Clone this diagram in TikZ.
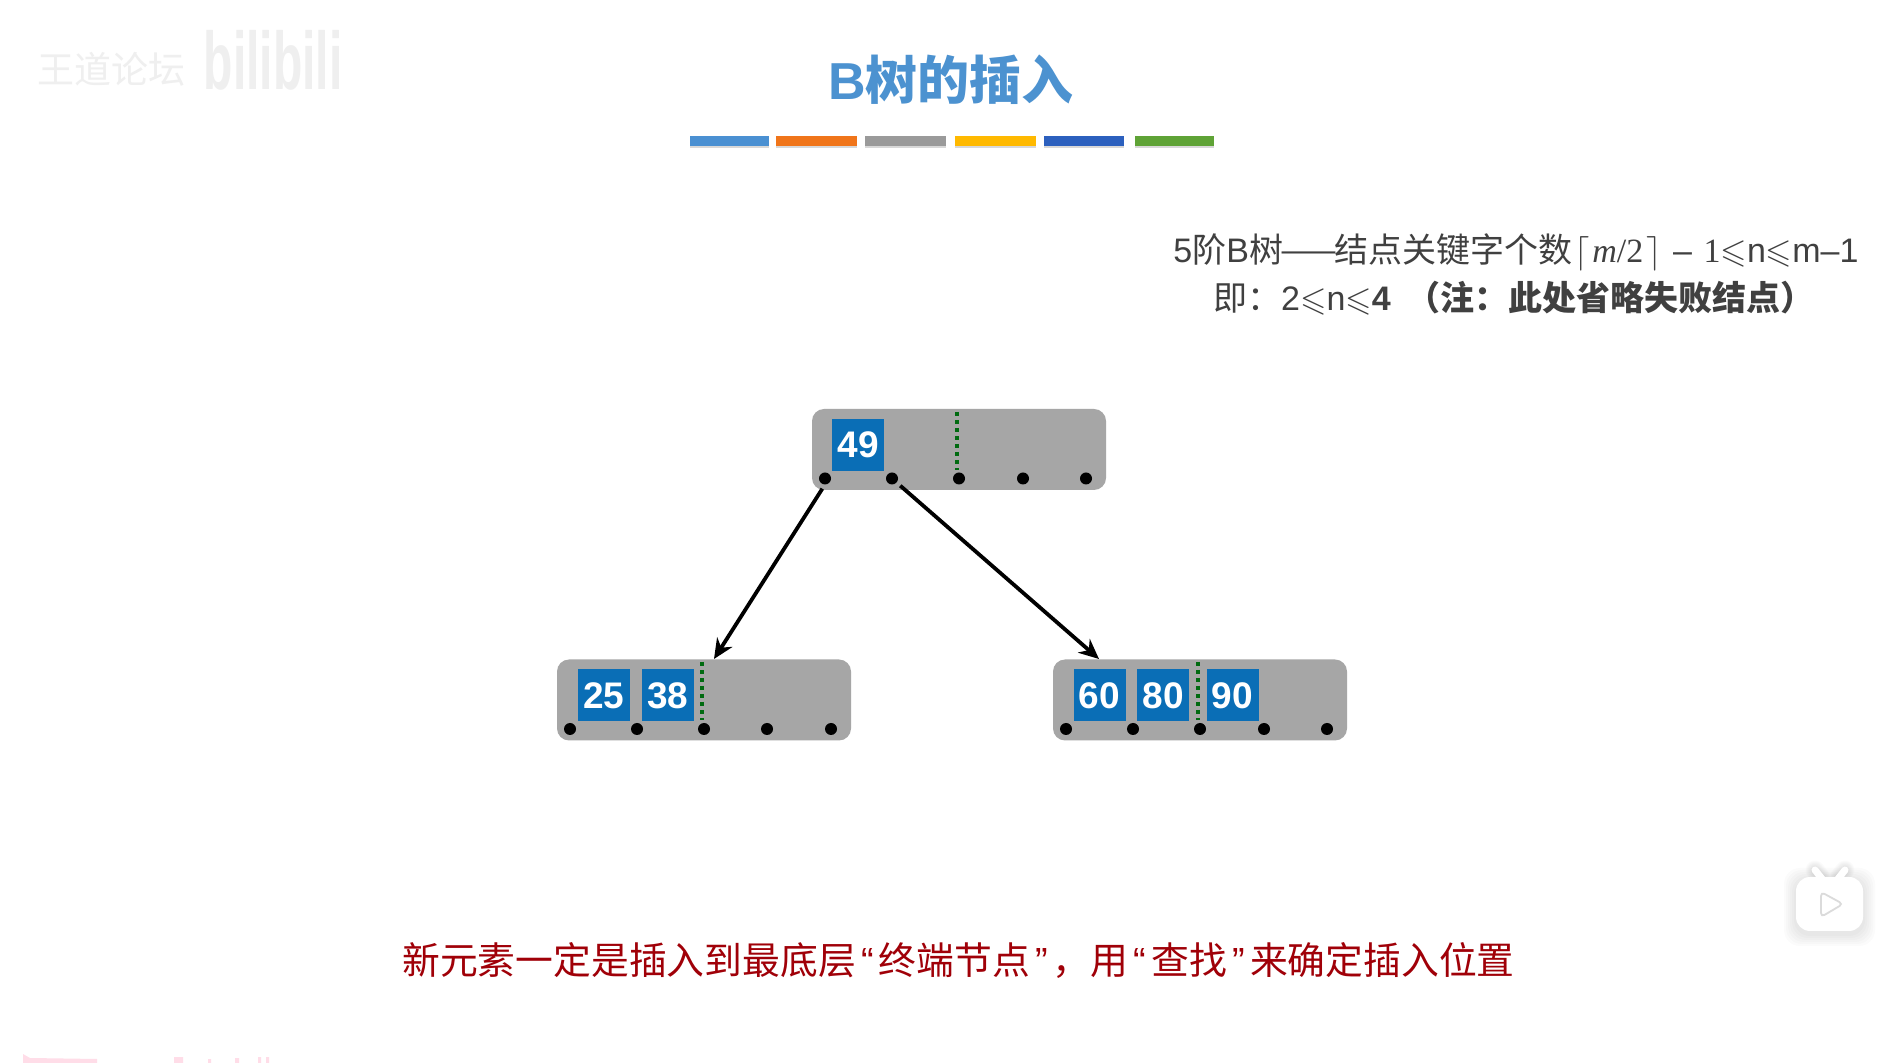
\documentclass[tikz,border=0pt]{standalone}
\usepackage{amssymb}
\usepackage{fontspec}
\setmainfont{Liberation Sans}
\newfontfamily\cjk{Noto Sans CJK SC}
\newfontfamily\timesfam{Liberation Serif}
\usetikzlibrary{arrows.meta,shadows}
\definecolor{titleblue}{HTML}{4C92D0}
\definecolor{barblue}{HTML}{4A90D2}
\definecolor{barorange}{HTML}{F0751A}
\definecolor{bargray}{HTML}{9A9A9A}
\definecolor{baryellow}{HTML}{FFB900}
\definecolor{bardark}{HTML}{2C60BE}
\definecolor{bargreen}{HTML}{5FA336}
\definecolor{panelgray}{HTML}{A6A6A6}
\definecolor{keyblue}{HTML}{0A6EB6}
\definecolor{seamgreen}{HTML}{006A10}
\definecolor{noteink}{HTML}{404040}
\definecolor{warnred}{HTML}{A00008}
\definecolor{markgray}{HTML}{EFEFEF}
\definecolor{smudgepink}{HTML}{FFDDE8}
\newcommand{\opquote}{\makebox[11.5pt][c]{“}}
\newcommand{\clquote}{\makebox[11.5pt][c]{”}}

\begin{document}
\begin{tikzpicture}[x=0.5pt,y=-0.5pt,>={Stealth[length=10pt,width=9pt]},
  bar/.style={minimum height=5pt,inner sep=0pt,outer sep=0pt,
              drop shadow={shadow xshift=0pt,shadow yshift=-1pt,opacity=.3}},
  panel/.style={fill=panelgray,rounded corners=6pt,minimum width=147pt,minimum height=40.5pt,
                inner sep=0pt,outer sep=0pt},
  keybox/.style={fill=keyblue,text=white,minimum size=26pt,inner sep=0pt,outer sep=0pt,
                 font=\fontsize{18.5}{18.5}\selectfont\bfseries},
  ptr/.style={circle,fill=black,minimum size=6pt,inner sep=0pt,outer sep=0pt},
  seam/.style={seamgreen,line width=2pt,dash pattern=on 2pt off 2pt},
  link/.style={->,black,line width=1.9pt,shorten <=2.5pt},
  note/.style={text=noteink,inner sep=0pt,font=\fontsize{17}{17}\selectfont},
  halo/.style={black,opacity=.014,rounded corners=8pt}]
\path[fill=white,use as bounding box] (0,0) rectangle (1903,1063);

% ===== watermark =====
\node[text=markgray,inner sep=0pt,font=\fontsize{18.5}{18.5}\selectfont\cjk] (wm) at (112,69) {王道论坛};
\node[text=markgray,inner sep=0pt,font=\fontsize{24}{24}\selectfont\bfseries,yscale=1.7,transform shape] (bili) at (273,60) {bilibili};
\fill[smudgepink] (23,1054) -- (30,1058) -- (97,1059) -- (97,1063) -- (23,1063) -- cycle;
\fill[smudgepink] (174,1057) rectangle (183,1063) (208,1059) rectangle (211,1063) (235,1058) rectangle (239,1063) (258,1057) rectangle (261,1063) (266,1057) rectangle (269,1063);

% ===== title =====
\node[text=titleblue,inner sep=0pt,font=\fontsize{26}{26}\selectfont\bfseries] (title) at (951,80) {B{\cjk 树的插入}};
\foreach \nm/\xa/\xb/\cc in {a/690/769/barblue,b/776/857/barorange,c/865/946/bargray,
                             d/955/1036/baryellow,e/1044/1124/bardark,f/1135/1214/bargreen}{
  \pgfmathsetlengthmacro{\ww}{(\xb-\xa)*0.5pt}
  \node[bar,fill=\cc,minimum width=\ww] (bar\nm) at ({(\xa+\xb)/2},141) {};}

% ===== note =====
\node[note] (rule) at (1516,252) {5{\cjk 阶}B{\cjk 树\hspace{-1.5pt}——\hspace{-1.5pt}结点关键字个数}\hspace{1pt}$\lceil$\hspace{1.5pt}{\timesfam\itshape m}{\timesfam/2}\hspace{1.5pt}$\rceil$\hspace{1pt} -- \hspace{1pt}{\timesfam 1}$\leqslant$n$\leqslant$m--1};
\node[note] (bound) at (1514,298) {{\cjk 即：}2$\leqslant$n$\leqslant$\textbf{4}\hspace{8pt}{\cjk\bfseries （注：此处省略失败结点）}};

% ===== root =====
\node[panel] (root) at (959,449.5) {};
\node[keybox] (k49) at (858,445) {49};
\draw[seam] (957,412) -- (957,470);
\foreach \nm/\xx in {r0/825,r1/892,r2/959,r3/1023,r4/1086}{
  \node[ptr] (\nm) at (\xx,478.5) {};}

% ===== left child =====
\node[panel] (lft) at (704,700) {};
\node[keybox] (k25) at (604,695.5) {25};
\node[keybox] (k38) at (668,695.5) {38};
\draw[seam] (702,662) -- (702,720);
\foreach \nm/\xx in {l0/570,l1/637,l2/704,l3/767,l4/831}{
  \node[ptr] (\nm) at (\xx,729) {};}

% ===== right child =====
\node[panel] (rgt) at (1200,700) {};
\node[keybox] (k60) at (1099.5,695.5) {60};
\node[keybox] (k80) at (1163,695.5) {80};
\node[keybox] (k90) at (1232.5,695.5) {90};
\draw[seam] (1198,662) -- (1198,720);
\foreach \nm/\xx in {c0/1066,c1/1133,c2/1200,c3/1264,c4/1327}{
  \node[ptr] (\nm) at (\xx,729) {};}

% ===== arrows =====
\coordinate (ltip) at (714,659);
\coordinate (rtip) at (1099,659);
\draw[link] (r0.south) -- (ltip);
\draw[link] (r1) -- (rtip);

% ===== caption =====
\node[text=warnred,inner sep=0pt,font=\fontsize{18.9}{18.9}\selectfont] (warn) at (958.5,961)
  {{\cjk 新元素一定是插入到最底层}\opquote{\cjk 终端节点}\clquote{\cjk ，用}\opquote{\cjk 查找}\clquote{\cjk 来确定插入位置}};

% ===== player icon =====
\foreach \gr in {2,4,...,12}{
  \fill[halo] (1796-\gr,877-\gr+3) rectangle (1863+\gr,931+\gr+3);
  \draw[black,opacity=.014,line width=3.5pt+\gr*0.5pt,line cap=round] (1815,870) -- (1826,884) (1845,870) -- (1834,884);}
\draw[white,line width=3.5pt,line cap=round] (1815,870) -- (1826,884) (1845,870) -- (1834,884);
\node[fill=white,rounded corners=7pt,minimum width=33.5pt,minimum height=27pt,inner sep=0pt] (tv) at (1829.5,904) {};
\draw[black!14,fill=white,line width=.9pt,rounded corners=2pt] (1821,892) -- (1843,904) -- (1821,917) -- cycle;
\end{tikzpicture}
\end{document}
